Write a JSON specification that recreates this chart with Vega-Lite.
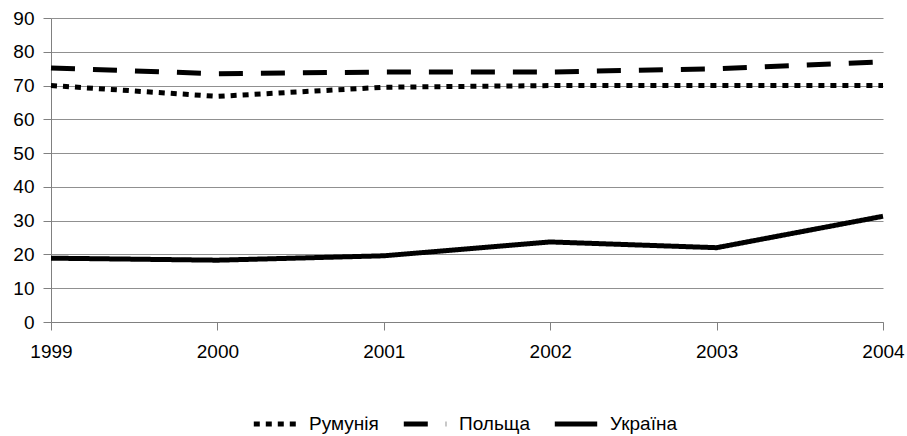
{
  "$schema": "https://vega.github.io/schema/vega-lite/v6.json",
  "autosize": "none",
  "width": 832,
  "height": 304,
  "padding": {"left": 51, "top": 18, "right": 24, "bottom": 114},
  "background": "white",
  "config": {
    "font": "Liberation Sans",
    "view": {"stroke": null},
    "axis": {"labelFont": "Liberation Sans", "labelFontSize": 19, "labelColor": "black", "domainColor": "#808080", "tickColor": "#808080", "gridColor": "#909090", "title": null}
  },
  "data": {
    "values": [
      {"year": 1999, "country": "Румунія", "value": 70},
      {"year": 2000, "country": "Румунія", "value": 66.8},
      {"year": 2001, "country": "Румунія", "value": 69.5},
      {"year": 2002, "country": "Румунія", "value": 70},
      {"year": 2003, "country": "Румунія", "value": 70},
      {"year": 2004, "country": "Румунія", "value": 70},
      {"year": 1999, "country": "Польща", "value": 75.2},
      {"year": 2000, "country": "Польща", "value": 73.5},
      {"year": 2001, "country": "Польща", "value": 74},
      {"year": 2002, "country": "Польща", "value": 74},
      {"year": 2003, "country": "Польща", "value": 75},
      {"year": 2004, "country": "Польща", "value": 77},
      {"year": 1999, "country": "Україна", "value": 18.9},
      {"year": 2000, "country": "Україна", "value": 18.3},
      {"year": 2001, "country": "Україна", "value": 19.6},
      {"year": 2002, "country": "Україна", "value": 23.7},
      {"year": 2003, "country": "Україна", "value": 22},
      {"year": 2004, "country": "Україна", "value": 31.3}
    ]
  },
  "mark": {"type": "line", "strokeWidth": 5, "color": "black", "interpolate": "linear", "strokeCap": "butt", "strokeJoin": "round"},
  "encoding": {
    "x": {
      "field": "year", "type": "quantitative",
      "scale": {"domain": [1999, 2004], "nice": false, "zero": false},
      "axis": {"values": [1999, 2000, 2001, 2002, 2003, 2004], "format": "d", "grid": false, "tickSize": 8, "labelPadding": 12, "labelFlush": false, "labelOverlap": false}
    },
    "y": {
      "field": "value", "type": "quantitative",
      "scale": {"domain": [0, 90], "nice": false},
      "axis": {"values": [0, 10, 20, 30, 40, 50, 60, 70, 80, 90], "grid": true, "tickSize": 8, "labelPadding": 9, "domain": true}
    },
    "strokeDash": {
      "field": "country", "type": "nominal",
      "scale": {"domain": ["Румунія", "Польща", "Україна"], "range": [[6, 6], [24, 18], [1, 0]]},
      "legend": {
        "title": null, "orient": "none", "direction": "horizontal",
        "legendX": 200, "legendY": 382,
        "labelFontSize": 19, "labelFont": "Liberation Sans", "labelColor": "black",
        "symbolSize": 1800, "symbolStrokeWidth": 5, "symbolStrokeColor": "black", "symbolType": "stroke",
        "labelOffset": 10, "columnPadding": 14
      }
    }
  }
}
